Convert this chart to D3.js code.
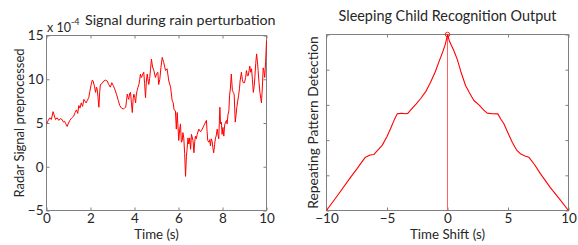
<!DOCTYPE html>
<html><head><meta charset="utf-8">
<script src="https://cdn.jsdelivr.net/npm/d3@7"></script>
<style>
body{margin:0;background:#fff;}
svg text{font-family:Lato,"Open Sans",sans-serif;fill:#262626;}
</style></head>
<body><svg id="c" width="578" height="245"></svg>
<script>
// ---- data ----
const leftTitle = "Signal during rain perturbation";
const rightTitle = "Sleeping Child Recognition Output";
const leftXTicks = [0, 2, 4, 6, 8, 10];
const leftYTicks = [-5, 0, 5, 10, 15];
const rightXTicks = [-10, -5, 0, 5, 10];
const rightYTicks = [0, 0.2, 0.4, 0.6, 0.8, 1];
// radar signal (x 10^-4) : [time s, value]
const signalPoints = [
[0,4.9],[0.08,5.3],[0.15,5.6],[0.22,5.4],[0.3,6.3],[0.36,5.8],[0.41,5.4],[0.48,5.6],[0.56,5.3],[0.63,5.5],
[0.71,5.4],[0.77,5.1],[0.82,5.2],[0.88,4.9],[0.94,4.6],[1.0,5.0],[1.06,5.3],[1.15,5.6],[1.24,5.8],[1.3,6.2],
[1.36,6.5],[1.42,6.1],[1.47,7.0],[1.52,6.7],[1.58,7.3],[1.64,6.9],[1.7,7.7],[1.75,7.5],[1.8,7.3],[1.86,7.6],
[1.92,7.9],[1.97,8.6],[2.03,9.4],[2.08,9.9],[2.12,9.8],[2.18,9.2],[2.23,8.5],[2.27,9.1],[2.3,8.9],[2.34,8.0],
[2.38,6.8],[2.42,8.6],[2.45,9.4],[2.52,9.5],[2.6,9.8],[2.68,9.9],[2.76,9.8],[2.83,9.4],[2.9,9.1],[2.97,9.6],
[3.03,9.3],[3.1,8.9],[3.18,8.3],[3.26,7.6],[3.33,7.0],[3.41,6.7],[3.49,6.6],[3.55,6.7],[3.6,6.8],[3.64,7.6],
[3.67,8.3],[3.71,7.9],[3.74,7.7],[3.78,8.4],[3.82,8.5],[3.86,7.3],[3.9,6.2],[3.94,7.8],[3.97,8.3],[4.01,7.9],
[4.05,7.3],[4.08,8.2],[4.12,8.7],[4.16,9.1],[4.2,9.4],[4.24,10.0],[4.27,10.6],[4.31,10.2],[4.35,10.4],[4.38,10.6],
[4.42,10.8],[4.46,9.5],[4.5,7.9],[4.54,9.8],[4.58,10.6],[4.62,9.8],[4.65,9.4],[4.69,10.1],[4.73,11.2],[4.77,12.3],
[4.82,11.4],[4.88,11.0],[4.95,10.2],[5.0,10.6],[5.06,10.8],[5.1,9.4],[5.15,10.0],[5.2,11.3],[5.26,12.5],[5.33,11.9],
[5.41,11.0],[5.48,11.2],[5.56,9.8],[5.64,9.1],[5.71,7.6],[5.76,7.3],[5.8,6.5],[5.86,6.4],[5.9,4.3],[5.94,6.2],
[5.97,4.9],[6.01,3.0],[6.05,4.2],[6.09,4.9],[6.13,2.8],[6.17,3.0],[6.2,3.9],[6.24,3.3],[6.28,1.5],[6.32,-1.1],
[6.36,1.2],[6.39,2.0],[6.43,3.3],[6.47,2.6],[6.51,3.3],[6.55,2.0],[6.59,3.7],[6.62,3.4],[6.66,3.0],[6.7,1.6],
[6.74,2.9],[6.77,3.5],[6.81,3.2],[6.85,3.7],[6.92,4.3],[7.0,4.0],[7.08,4.3],[7.15,4.7],[7.21,5.0],[7.27,5.3],
[7.3,4.0],[7.33,3.0],[7.38,2.8],[7.42,3.1],[7.45,2.4],[7.49,3.2],[7.53,2.9],[7.56,2.2],[7.6,1.6],[7.64,2.5],
[7.68,3.3],[7.71,3.5],[7.76,4.3],[7.8,3.6],[7.83,3.2],[7.88,6.8],[7.91,4.9],[7.95,5.1],[7.98,3.7],[8.02,4.5],
[8.06,3.5],[8.1,4.8],[8.14,5.1],[8.18,5.3],[8.21,4.9],[8.25,6.0],[8.29,6.4],[8.32,8.1],[8.36,9.0],[8.4,10.6],
[8.45,8.7],[8.49,8.5],[8.53,8.3],[8.58,5.1],[8.62,6.0],[8.65,6.8],[8.69,7.5],[8.73,8.1],[8.77,8.9],[8.8,9.8],
[8.86,10.8],[8.9,10.0],[8.94,9.6],[9.0,9.6],[9.05,10.2],[9.09,11.0],[9.13,10.4],[9.17,10.4],[9.21,11.0],[9.24,11.5],
[9.28,10.8],[9.32,11.2],[9.36,10.0],[9.4,8.5],[9.44,9.2],[9.47,10.2],[9.51,11.8],[9.55,12.9],[9.59,12.0],[9.62,11.0],
[9.66,9.6],[9.7,8.5],[9.74,7.8],[9.77,7.3],[9.81,9.0],[9.85,11.3],[9.88,11.0],[9.92,10.2],[9.96,12.0],[10.0,14.4]
];
// recognition output (normalised) : [time shift s, value]
const recogPoints = [
[-10,0],[-9,0.094],[-8,0.19],[-7.5,0.235],[-7,0.283],[-6.78,0.303],[-6.4,0.315],[-6.09,0.318],[-5.8,0.34],[-5.4,0.37],
[-5,0.42],[-4.71,0.464],[-4.4,0.515],[-4.16,0.549],[-3.8,0.553],[-3.5,0.55],[-3.28,0.552],[-3,0.575],[-2.6,0.605],[-2.23,0.635],
[-1.8,0.675],[-1.4,0.729],[-1.0,0.79],[-0.72,0.843],[-0.4,0.9],[-0.17,0.947],[0,1],
[0.17,0.96],[0.52,0.909],[0.8,0.86],[1.1,0.79],[1.49,0.71],[1.8,0.67],[2.18,0.625],[2.6,0.6],[3.0,0.57],
[3.28,0.553],[3.7,0.55],[4.16,0.549],[4.4,0.52],[4.66,0.493],[5.0,0.44],[5.35,0.388],[5.7,0.345],[6.03,0.322],[6.4,0.31],
[6.72,0.303],[7.2,0.26],[7.69,0.208],[8.5,0.13],[9.2,0.07],[10,0]
];
const peakPoint = [0, 1];

// ---- drawing ----
const svg = d3.select("#c");
const axisColor = "#808080";
const red = "#ff0000";

function box(g, x, y, xt, yt, showYLabels, yFmt) {
  const [x0, x1] = x.range(), [y0, y1] = y.range();
  const tl = 3;
  const ax = g.append("g").attr("transform", `translate(0,${y0})`)
    .call(d3.axisBottom(x).tickValues(xt).tickSize(-tl).tickPadding(3).tickSizeOuter(0));
  const at = g.append("g").attr("transform", `translate(0,${y1})`)
    .call(d3.axisTop(x).tickValues(xt).tickSize(-tl).tickFormat("").tickSizeOuter(0));
  const al = g.append("g").attr("transform", `translate(${x0},0)`)
    .call(d3.axisLeft(y).tickValues(yt).tickSize(-tl).tickPadding(3).tickSizeOuter(0)
      .tickFormat(showYLabels ? yFmt : ""));
  const ar = g.append("g").attr("transform", `translate(${x1},0)`)
    .call(d3.axisRight(y).tickValues(yt).tickSize(-tl).tickFormat("").tickSizeOuter(0));
  [ax, at, al, ar].forEach(a => {
    a.select(".domain").remove();
    a.selectAll("line").attr("stroke", axisColor);
    a.selectAll("text").style("font-size", "13.5px").attr("fill", "#262626")
      .style("font-family", "Lato, 'Open Sans', sans-serif");
  });
  g.append("rect").attr("x", x0).attr("y", y1).attr("width", x1 - x0).attr("height", y0 - y1)
    .attr("fill", "none").attr("stroke", axisColor).attr("stroke-width", 1);
}

// Left chart
const xL = d3.scaleLinear().domain([0, 10]).range([46.5, 266.5]);
const yL = d3.scaleLinear().domain([-5, 15]).range([210.5, 35.5]);
const gL = svg.append("g");
box(gL, xL, yL, leftXTicks, leftYTicks, true, d3.format("d"));
gL.append("path").datum(signalPoints)
  .attr("d", d3.line().x(d => xL(d[0])).y(d => yL(d[1])))
  .attr("fill", "none").attr("stroke", red).attr("stroke-width", 1).attr("stroke-linejoin", "round");
gL.append("text").attr("x", 85).attr("y", 25).style("font-size", "14.3px").text(leftTitle);
const mult = gL.append("text").attr("x", 47).attr("y", 32).style("font-size", "12.5px");
mult.append("tspan").text("x 10");
mult.append("tspan").attr("dy", -7).style("font-size", "9px").text("-4");
gL.append("text").attr("x", (46.5 + 266.5) / 2).attr("y", 239).attr("text-anchor", "middle")
  .style("font-size", "13.3px").text("Time (s)");
gL.append("text").attr("transform", `translate(24,${(35.5 + 210.5) / 2}) rotate(-90)`)
  .attr("text-anchor", "middle").style("font-size", "13px").text("Radar Signal preprocessed");

// Right chart
const xR = d3.scaleLinear().domain([-10, 10]).range([326.5, 568.5]);
const yR = d3.scaleLinear().domain([0, 1]).range([210.5, 34.5]);
const gR = svg.append("g");
box(gR, xR, yR, rightXTicks, rightYTicks, false, null);
gR.append("line").attr("x1", xR(0)).attr("x2", xR(0)).attr("y1", yR(0)).attr("y2", yR(1))
  .attr("stroke", "#ff5050").attr("stroke-width", 0.9);
gR.append("path").datum(recogPoints)
  .attr("d", d3.line().x(d => xR(d[0])).y(d => yR(d[1])))
  .attr("fill", "none").attr("stroke", red).attr("stroke-width", 1.1).attr("stroke-linejoin", "round");
gR.append("circle").attr("cx", xR(peakPoint[0])).attr("cy", yR(peakPoint[1])).attr("r", 2.3)
  .attr("fill", "none").attr("stroke", red).attr("stroke-width", 0.8);
gR.append("text").attr("x", (326.5 + 568.5) / 2).attr("y", 21).attr("text-anchor", "middle")
  .style("font-size", "14.4px").text(rightTitle);
gR.append("text").attr("x", (326.5 + 568.5) / 2).attr("y", 239).attr("text-anchor", "middle")
  .style("font-size", "13.3px").text("Time Shift (s)");
gR.append("text").attr("transform", `translate(318,${(34.5 + 210.5) / 2}) rotate(-90)`)
  .attr("text-anchor", "middle").style("font-size", "13.8px").text("Repeating Pattern Detection");
</script></body></html>
